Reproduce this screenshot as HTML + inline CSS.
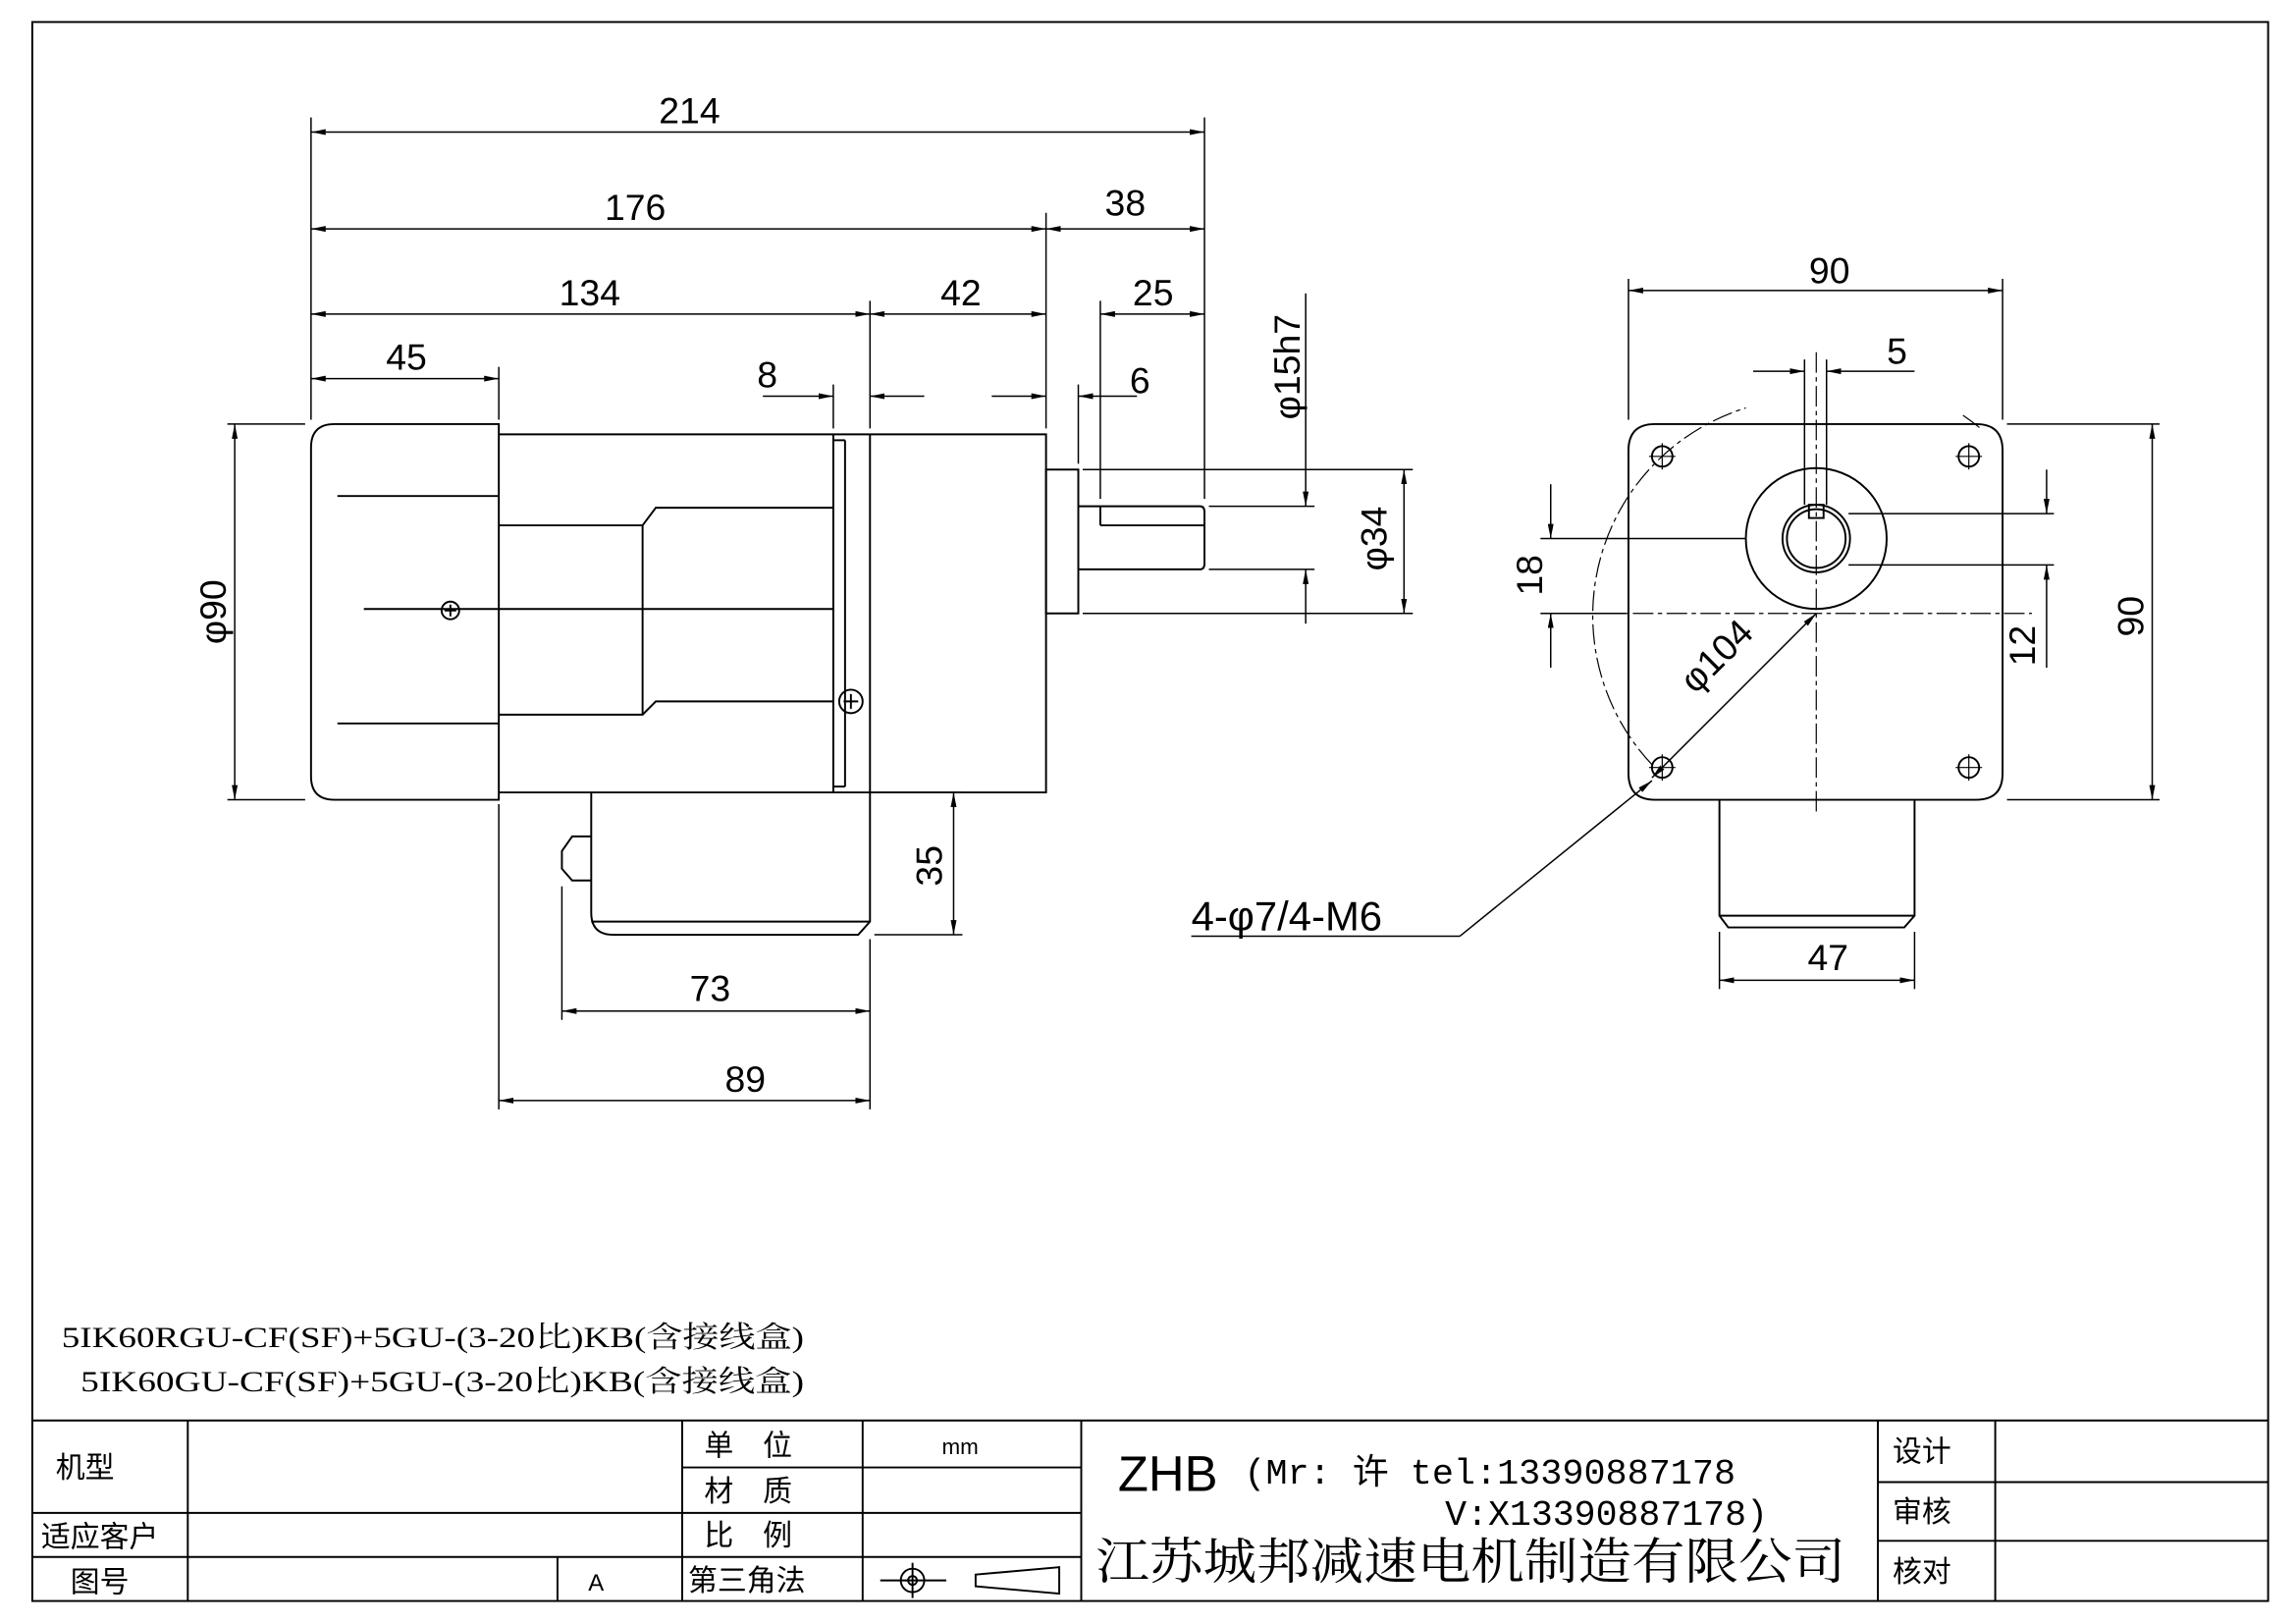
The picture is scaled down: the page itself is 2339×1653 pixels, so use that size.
<!DOCTYPE html>
<html><head><meta charset="utf-8"><style>
html,body{margin:0;padding:0;background:#fff;}
svg{display:block;}
</style></head><body>
<svg width="2339" height="1653" viewBox="0 0 1565 1106" preserveAspectRatio="none" xmlns="http://www.w3.org/2000/svg" font-family="'Liberation Sans','DejaVu Sans',sans-serif">
<defs>
<marker id="a" viewBox="0 0 10 4" refX="10" refY="2" markerWidth="10" markerHeight="4" orient="auto-start-reverse" markerUnits="userSpaceOnUse"><path d="M0,0 L10,2 L0,4 z" fill="#000"/></marker>
</defs>
<g fill="none" stroke="#000" stroke-width="1.3">
<rect x="22" y="15" width="1524" height="1076"/>
<line x1="22" y1="968" x2="1546" y2="968"/>
<line x1="22" y1="1031" x2="465" y2="1031"/>
<line x1="22" y1="1061" x2="465" y2="1061"/>
<line x1="465" y1="1000" x2="737" y2="1000"/>
<line x1="465" y1="1031" x2="737" y2="1031"/>
<line x1="465" y1="1061" x2="737" y2="1061"/>
<line x1="128" y1="968" x2="128" y2="1091"/>
<line x1="465" y1="968" x2="465" y2="1091"/>
<line x1="588" y1="968" x2="588" y2="1091"/>
<line x1="737" y1="968" x2="737" y2="1091"/>
<line x1="380" y1="1061" x2="380" y2="1091"/>
<line x1="1280" y1="968" x2="1280" y2="1091"/>
<line x1="1360" y1="968" x2="1360" y2="1091"/>
<line x1="1280" y1="1010" x2="1546" y2="1010"/>
<line x1="1280" y1="1050" x2="1546" y2="1050"/>
<circle cx="622" cy="1077" r="8"/><circle cx="622" cy="1077" r="3"/>
<line x1="600" y1="1077" x2="645" y2="1077"/><line x1="622" y1="1065" x2="622" y2="1089"/>
<path d="M665,1073 L722,1068 L722,1086 L665,1081 Z"/>

<path d="M340,289 L228,289 Q212,289 212,305 L212,529 Q212,545 228,545 L340,545 Z"/>
<path d="M340,296 L713,296 L713,540 L340,540"/>
<line x1="568" y1="296" x2="568" y2="540"/>
<line x1="593" y1="296" x2="593" y2="540"/>
<line x1="568" y1="300" x2="576" y2="300"/><line x1="576" y1="300" x2="576" y2="536"/><line x1="568" y1="536" x2="576" y2="536"/>
<path d="M340,358 L438,358 L447,346 L568,346"/>
<path d="M340,487 L438,487 L447,478 L568,478"/>
<line x1="438" y1="358" x2="438" y2="487"/>
<line x1="230" y1="338" x2="340" y2="338"/>
<line x1="248" y1="415" x2="568" y2="415"/>
<line x1="230" y1="493" x2="340" y2="493"/>
<circle cx="307" cy="416" r="6"/><path d="M303,416h8M307,412v8"/>
<circle cx="580" cy="478" r="8"/><path d="M575,478h10M580,473v10"/>
<rect x="713" y="320" width="22" height="98"/>
<path d="M735,345 L818,345 Q821,345 821,349 L821,384 Q821,388 818,388 L735,388"/>
<line x1="750" y1="358" x2="821" y2="358"/><line x1="750" y1="345" x2="750" y2="358"/>
<path d="M403,540 L403,622 Q403,637 418,637 L585,637 L593,628 L593,540"/>
<line x1="403" y1="628" x2="593" y2="628"/>
<path d="M403,570 L390,570 L383,580 L383,592 L390,600 L403,600"/>

<g stroke-width="1">
<line x1="212" y1="80" x2="212" y2="286"/>
<line x1="821" y1="80" x2="821" y2="340"/>
<line x1="713" y1="145" x2="713" y2="292"/>
<line x1="593" y1="205" x2="593" y2="292"/>
<line x1="568" y1="262" x2="568" y2="292"/>
<line x1="340" y1="250" x2="340" y2="286"/>
<line x1="735" y1="262" x2="735" y2="316"/>
<line x1="750" y1="205" x2="750" y2="340"/>
<line x1="155" y1="289" x2="208" y2="289"/><line x1="155" y1="545" x2="208" y2="545"/>
<line x1="824" y1="345" x2="896" y2="345"/><line x1="824" y1="388" x2="896" y2="388"/>
<line x1="738" y1="320" x2="963" y2="320"/><line x1="738" y1="418" x2="963" y2="418"/>
<line x1="596" y1="540" x2="656" y2="540"/><line x1="596" y1="637" x2="656" y2="637"/>
<line x1="383" y1="604" x2="383" y2="695"/>
<line x1="593" y1="640" x2="593" y2="756"/>
<line x1="340" y1="548" x2="340" y2="756"/>
</g>
<g stroke-width="1" marker-start="url(#a)" marker-end="url(#a)">
<line x1="212" y1="90" x2="821" y2="90"/>
<line x1="212" y1="156" x2="713" y2="156"/>
<line x1="713" y1="156" x2="821" y2="156"/>
<line x1="212" y1="214" x2="593" y2="214"/>
<line x1="593" y1="214" x2="713" y2="214"/>
<line x1="750" y1="214" x2="821" y2="214"/>
<line x1="212" y1="258" x2="340" y2="258"/>
<line x1="160" y1="289" x2="160" y2="545"/>
<line x1="957" y1="320" x2="957" y2="418"/>
<line x1="650" y1="540" x2="650" y2="637"/>
<line x1="383" y1="689" x2="593" y2="689"/>
<line x1="340" y1="750" x2="593" y2="750"/>
</g>
<g stroke-width="1" marker-end="url(#a)">
<line x1="520" y1="270" x2="568" y2="270"/><line x1="630" y1="270" x2="593" y2="270"/>
<line x1="676" y1="270" x2="713" y2="270"/><line x1="775" y1="270" x2="735" y2="270"/>
<line x1="890" y1="200" x2="890" y2="345"/><line x1="890" y1="425" x2="890" y2="388"/>
</g>

<path d="M1128,289 L1347,289 Q1365,289 1365,307 L1365,527 Q1365,545 1347,545 L1128,545 Q1110,545 1110,527 L1110,307 Q1110,289 1128,289 Z"/>
<circle cx="1133" cy="311" r="7"/><circle cx="1342" cy="311" r="7"/><circle cx="1133" cy="523" r="7"/><circle cx="1342" cy="523" r="7"/>
<g stroke-width="0.8"><path d="M1124,311h18M1133,302v18M1333,311h18M1342,302v18M1124,523h18M1133,514v18M1333,523h18M1342,514v18"/></g>
<circle cx="1238" cy="367" r="48"/>
<circle cx="1238" cy="367" r="23"/>
<circle cx="1238" cy="367" r="20"/>
<rect x="1233" y="344" width="10" height="9"/>
<path d="M1172,545 L1172,624 L1178,632 L1298,632 L1305,624 L1305,545"/>
<line x1="1172" y1="624" x2="1305" y2="624"/>
<g stroke-width="0.8" stroke-dasharray="14,3,3,3">
<line x1="1238" y1="240" x2="1238" y2="555"/>
<line x1="1090" y1="418" x2="1385" y2="418"/>
<path d="M1126,521 A148,148 0 0 1 1190,278"/>
<path d="M1338,283 A148,148 0 0 1 1350,292"/>
</g>
<g stroke-width="1">
<line x1="1110" y1="190" x2="1110" y2="286"/><line x1="1365" y1="190" x2="1365" y2="286"/>
<line x1="1230" y1="245" x2="1230" y2="344"/><line x1="1245" y1="245" x2="1245" y2="344"/>
<line x1="1368" y1="289" x2="1472" y2="289"/><line x1="1368" y1="545" x2="1472" y2="545"/>
<line x1="1260" y1="350" x2="1400" y2="350"/><line x1="1260" y1="385" x2="1400" y2="385"/>
<line x1="1050" y1="367" x2="1190" y2="367"/><line x1="1050" y1="418" x2="1108" y2="418"/>
<line x1="1172" y1="635" x2="1172" y2="674"/><line x1="1305" y1="635" x2="1305" y2="674"/>
<line x1="995" y1="638" x2="812" y2="638"/>
</g>
<g stroke-width="1" marker-start="url(#a)" marker-end="url(#a)">
<line x1="1110" y1="198" x2="1365" y2="198"/>
<line x1="1467" y1="289" x2="1467" y2="545"/>
<line x1="1172" y1="668" x2="1305" y2="668"/>
<line x1="1238" y1="418" x2="1126" y2="530"/>
</g>
<g stroke-width="1" marker-end="url(#a)">
<line x1="1195" y1="253" x2="1230" y2="253"/><line x1="1305" y1="253" x2="1245" y2="253"/>
<line x1="1395" y1="320" x2="1395" y2="350"/><line x1="1395" y1="455" x2="1395" y2="385"/>
<line x1="1057" y1="330" x2="1057" y2="367"/><line x1="1057" y1="455" x2="1057" y2="418"/>
<line x1="995" y1="638" x2="1126" y2="532"/>
</g>
</g>

<g font-size="25" fill="#000">
<text x="470" y="84" text-anchor="middle">214</text>
<text x="433" y="150" text-anchor="middle">176</text>
<text x="767" y="147" text-anchor="middle">38</text>
<text x="402" y="208" text-anchor="middle">134</text>
<text x="655" y="208" text-anchor="middle">42</text>
<text x="786" y="208" text-anchor="middle">25</text>
<text x="277" y="252" text-anchor="middle">45</text>
<text x="523" y="264" text-anchor="middle">8</text>
<text x="777" y="268" text-anchor="middle">6</text>
<text x="484" y="682" text-anchor="middle">73</text>
<text x="508" y="744" text-anchor="middle">89</text>
<text x="1247" y="193" text-anchor="middle">90</text>
<text x="1293" y="248" text-anchor="middle">5</text>
<text x="1246" y="661" text-anchor="middle">47</text>
<text transform="translate(154,417) rotate(-90)" text-anchor="middle">φ90</text>
<text transform="translate(886,250) rotate(-90)" text-anchor="middle">φ15h7</text>
<text transform="translate(945,367) rotate(-90)" text-anchor="middle">φ34</text>
<text transform="translate(642,590) rotate(-90)" text-anchor="middle">35</text>
<text transform="translate(1051,392) rotate(-90)" text-anchor="middle">18</text>
<text transform="translate(1387,440) rotate(-90)" text-anchor="middle">12</text>
<text transform="translate(1461,420) rotate(-90)" text-anchor="middle">90</text>
<text transform="translate(1176,453) rotate(-45)" text-anchor="middle">φ104</text>
<text x="812" y="634" font-size="28">4-φ7/4-M6</text>
</g>

<g font-family="'Liberation Serif','Noto Serif CJK SC',serif" font-size="20" fill="#000">
<text x="42" y="918" textLength="506" lengthAdjust="spacingAndGlyphs">5IK60RGU-CF(SF)+5GU-(3-20比)KB(含接线盒)</text>
<text x="55" y="948" textLength="493" lengthAdjust="spacingAndGlyphs">5IK60GU-CF(SF)+5GU-(3-20比)KB(含接线盒)</text>
</g>
<g font-family="'Liberation Sans','Noto Sans CJK SC',sans-serif" font-size="20" fill="#000">
<text x="38" y="1007">机型</text>
<text x="28" y="1054">适应客户</text>
<text x="48" y="1085">图号</text>
<text x="401" y="1084" font-size="16">A</text>
<text x="480" y="992">单　位</text>
<text x="480" y="1023">材　质</text>
<text x="480" y="1053">比　例</text>
<text x="469" y="1084">第三角法</text>
<text x="642" y="991" font-size="15">mm</text>
<text x="1290" y="996">设计</text>
<text x="1290" y="1037">审核</text>
<text x="1290" y="1078">核对</text>
<text x="762" y="1016" font-size="34">ZHB</text>
<text x="848" y="1011" font-size="24" font-family="'Liberation Mono','Noto Sans CJK SC',monospace" textLength="335" lengthAdjust="spacingAndGlyphs">(Mr: 许 tel:13390887178</text>
<text x="985" y="1039" font-size="24" font-family="'Liberation Mono','Noto Sans CJK SC',monospace" textLength="220" lengthAdjust="spacingAndGlyphs">V:X13390887178)</text>
<text x="747" y="1076" font-size="34" font-family="'Liberation Serif','Noto Serif CJK SC',serif" textLength="511" lengthAdjust="spacingAndGlyphs">江苏城邦减速电机制造有限公司</text>
</g>
</svg>
</body></html>
